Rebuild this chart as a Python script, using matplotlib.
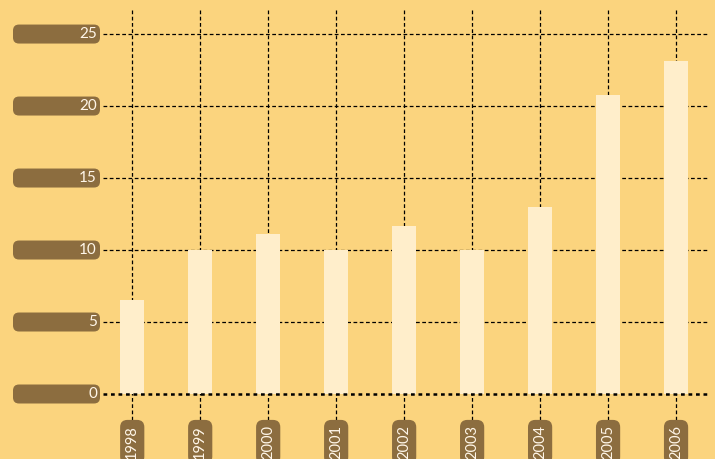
import matplotlib
matplotlib.use("Agg")
import matplotlib.pyplot as plt
import matplotlib.transforms as mtransforms
from matplotlib.patches import FancyBboxPatch

# ── Data ──────────────────────────────────────────────────────────────────────
YEARS = ["1998", "1999", "2000", "2001", "2002", "2003", "2004", "2005", "2006"]
VALUES = [6.5, 10.0, 11.1, 10.0, 11.7, 10.0, 13.0, 20.8, 23.1]
Y_TICKS = [0, 5, 10, 15, 20, 25]

BG = "#FBD47E"
BAR = "#FFEECB"
TAG = "#8C6D3F"
TAG_TEXT = "#FFF6E8"

W, H = 715, 459
fig = plt.figure(figsize=(W / 100, H / 100), dpi=100, facecolor=BG)
ax = fig.add_axes([103 / W, (H - 394) / H, (708 - 103) / W, (394 - 10) / H])
ax.set_facecolor(BG)

x = list(range(len(YEARS)))
ax.bar(x, VALUES, width=0.35, color=BAR, zorder=2)
ax.set_xlim(-0.43, 8.47)
ax.set_ylim(0, 26.67)
for s in ax.spines.values():
    s.set_visible(False)
ax.set_xticks([])
ax.set_yticks([])

# horizontal grid
for yv in Y_TICKS[1:]:
    ax.axhline(yv, color="black", linestyle=(0, (3, 2)), linewidth=0.9, zorder=1)
ax.axhline(0, color="black", linestyle=(0, (1.5, 1.5)), linewidth=1.8, zorder=3, clip_on=False)

# vertical grid, extending below the axis down to the year tags
blend = mtransforms.blended_transform_factory(ax.transData, ax.transAxes)
drop = 26 / 384
for xi in x:
    ax.plot([xi, xi], [-drop, 1], color="black", linestyle=(0, (3, 2)),
            linewidth=0.9, transform=blend, clip_on=False, zorder=1)

# year tags
for xi, lab in zip(x, YEARS):
    ax.text(xi, -drop - 5 / 384, lab, transform=blend, rotation=90,
            ha="center", va="top", fontsize=10.5, color=TAG_TEXT, family="Lato",
            bbox=dict(boxstyle="round,pad=0.35,rounding_size=0.5", fc=TAG, ec="none"))

# value tags on the left (drawn in pixel space, placed from the data scale)
fig.canvas.draw()
yblend = mtransforms.blended_transform_factory(fig.transFigure, ax.transData)
for yv in Y_TICKS:
    py = ax.transData.transform((0, yv))[1]
    patch = FancyBboxPatch((13, py - 9.5), 87, 19,
                           boxstyle="round,pad=0,rounding_size=6",
                           transform=mtransforms.IdentityTransform(),
                           fc=TAG, ec="none", clip_on=False)
    fig.patches.append(patch)
    fig.text(97 / W, yv, str(yv), transform=yblend, ha="right", va="center",
             fontsize=11, color=TAG_TEXT, family="Lato")

fig.savefig("out.png", dpi=100, facecolor=BG)
